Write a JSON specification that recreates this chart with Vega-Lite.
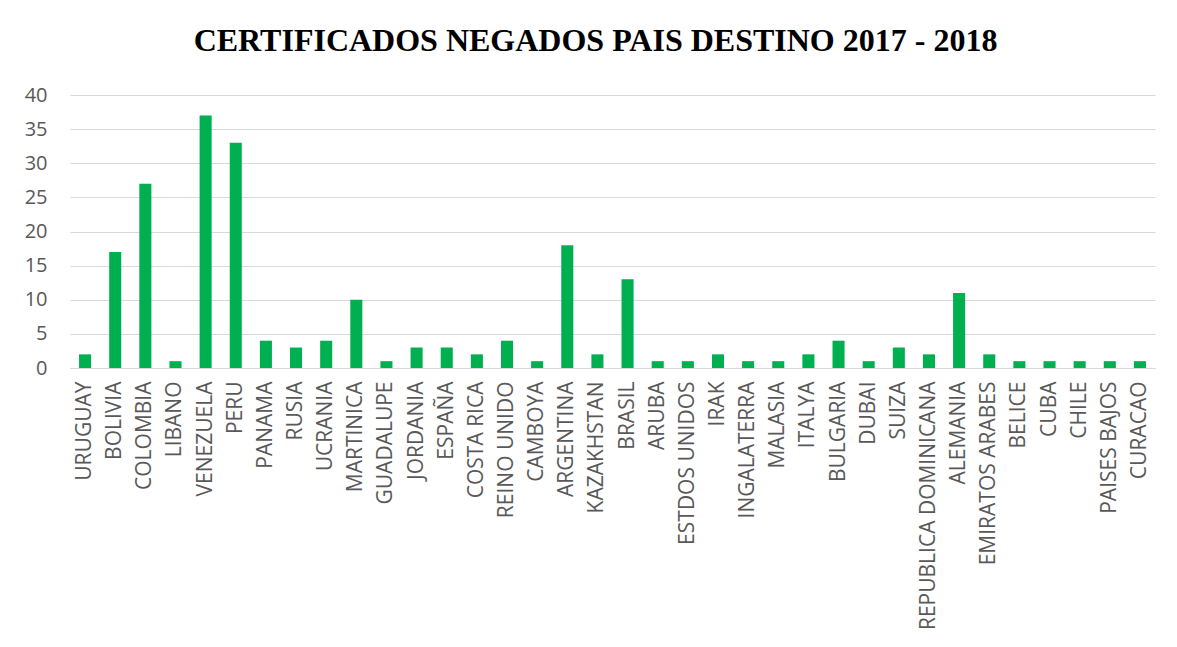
{
  "$schema": "https://vega.github.io/schema/vega-lite/v6.json",
  "autosize": "none",
  "width": 1085,
  "height": 273,
  "padding": {"left": 70, "top": 95, "right": 22, "bottom": 279},
  "background": "white",
  "title": {
    "text": "CERTIFICADOS NEGADOS PAIS DESTINO 2017 - 2018",
    "font": "Liberation Serif",
    "fontSize": 32,
    "fontWeight": "bold",
    "color": "#000000",
    "anchor": "middle",
    "offset": 27,
    "dx": -17
  },
  "data": {
    "values": [
      {"pais": "URUGUAY", "n": 2},
      {"pais": "BOLIVIA", "n": 17},
      {"pais": "COLOMBIA", "n": 27},
      {"pais": "LIBANO", "n": 1},
      {"pais": "VENEZUELA", "n": 37},
      {"pais": "PERU", "n": 33},
      {"pais": "PANAMA", "n": 4},
      {"pais": "RUSIA", "n": 3},
      {"pais": "UCRANIA", "n": 4},
      {"pais": "MARTINICA", "n": 10},
      {"pais": "GUADALUPE", "n": 1},
      {"pais": "JORDANIA", "n": 3},
      {"pais": "ESPAÑA", "n": 3},
      {"pais": "COSTA RICA", "n": 2},
      {"pais": "REINO UNIDO", "n": 4},
      {"pais": "CAMBOYA", "n": 1},
      {"pais": "ARGENTINA", "n": 18},
      {"pais": "KAZAKHSTAN", "n": 2},
      {"pais": "BRASIL", "n": 13},
      {"pais": "ARUBA", "n": 1},
      {"pais": "ESTDOS UNIDOS", "n": 1},
      {"pais": "IRAK", "n": 2},
      {"pais": "INGALATERRA", "n": 1},
      {"pais": "MALASIA", "n": 1},
      {"pais": "ITALYA", "n": 2},
      {"pais": "BULGARIA", "n": 4},
      {"pais": "DUBAI", "n": 1},
      {"pais": "SUIZA", "n": 3},
      {"pais": "REPUBLICA DOMINICANA", "n": 2},
      {"pais": "ALEMANIA", "n": 11},
      {"pais": "EMIRATOS ARABES", "n": 2},
      {"pais": "BELICE", "n": 1},
      {"pais": "CUBA", "n": 1},
      {"pais": "CHILE", "n": 1},
      {"pais": "PAISES BAJOS", "n": 1},
      {"pais": "CURACAO", "n": 1}
    ]
  },
  "mark": {"type": "bar", "color": "#00b050"},
  "encoding": {
    "x": {
      "field": "pais",
      "type": "nominal",
      "sort": null,
      "scale": {"paddingInner": 0.6, "paddingOuter": 0.3},
      "axis": {
        "title": null,
        "labelAngle": -90,
        "labelFont": "Open Sans",
        "labelFontSize": 21,
        "labelColor": "#595959",
        "labelPadding": 13,
        "labelLimit": 400,
        "ticks": false,
        "domainColor": "#d9d9d9",
        "domainWidth": 1
      }
    },
    "y": {
      "field": "n",
      "type": "quantitative",
      "scale": {"domain": [0, 40]},
      "axis": {
        "title": null,
        "values": [0, 5, 10, 15, 20, 25, 30, 35, 40],
        "labelFont": "Open Sans",
        "labelFontSize": 20,
        "labelColor": "#595959",
        "labelPadding": 23,
        "ticks": false,
        "domain": false,
        "gridColor": "#d9d9d9",
        "gridWidth": 1
      }
    }
  },
  "config": {"view": {"stroke": null}}
}
